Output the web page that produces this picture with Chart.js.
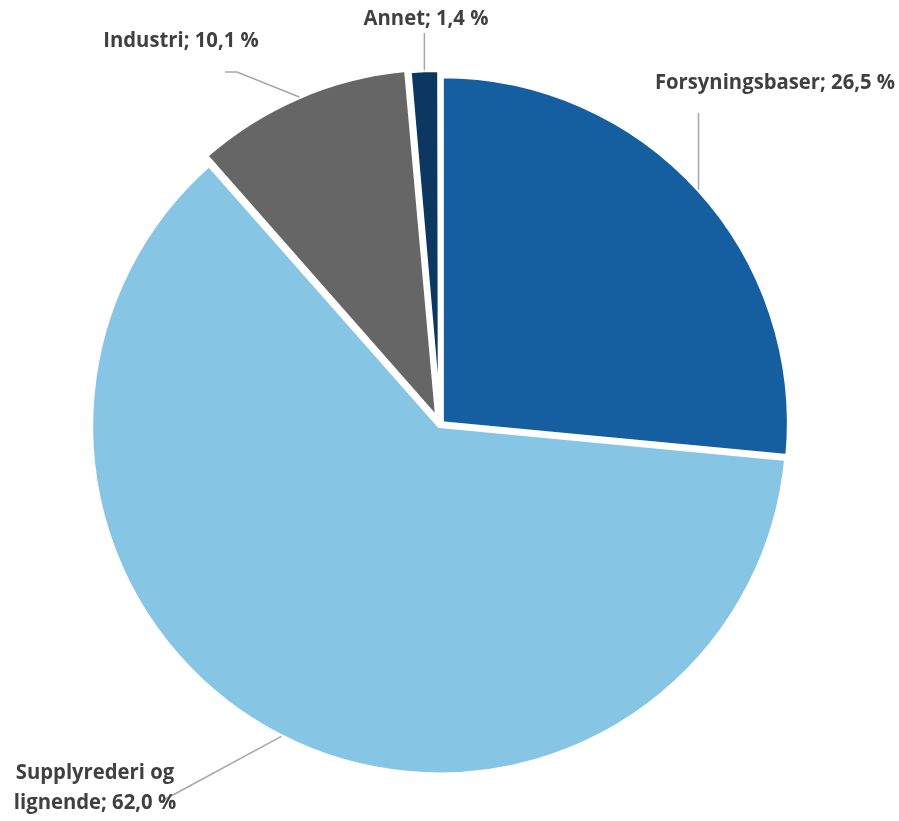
<!DOCTYPE html>
<html>
<head>
<meta charset="utf-8">
<script src="https://cdn.jsdelivr.net/npm/chart.js@4/dist/chart.umd.min.js"></script>
<style>
  html, body { margin: 0; padding: 0; background: #ffffff; }
  #wrap { width: 899px; height: 821px; position: relative; }
</style>
</head>
<body>
<div id="wrap"><canvas id="graficoPie"></canvas></div>
<script>
const kategorier = ['Forsyningsbaser', 'Supplyrederi og lignende', 'Industri', 'Annet'];
const andeler = [26.5, 62.0, 10.1, 1.4];
const farger = ['#155fa0', '#86c5e4', '#666666', '#0c3761'];
const etikettLinjer = [
    ['Forsyningsbaser; 26,5 %'],
    ['Supplyrederi og', 'lignende; 62,0 %'],
    ['Industri; 10,1 %'],
    ['Annet; 1,4 %']
];

// plassering av etiketter og knekkpunkter for linjene
const etikettPlass = [
    { tx: 775, ty: 83, linje: [['anchor', 113]] },
    { tx: 95, ty: 773, linje: [[160, 802]] },
    { tx: 181, ty: 41, linje: [[237, 72], [225, 72]] },
    { tx: 426, ty: 19, linje: [['anchor', 33]] }
];

const FONT = 'bold 21px "Open Sans", sans-serif';
const SMAL = 0.965; // smalere tekst, nærmere Calibri

const etiketter = {
    id: 'etiketter',
    afterDatasetsDraw(chart) {
        const ctx = chart.ctx;
        const arcs = chart.getDatasetMeta(0).data;
        ctx.save();
        arcs.forEach((arc, i) => {
            const p = arc.getProps(['x', 'y', 'startAngle', 'endAngle', 'outerRadius', 'circumference'], true);
            const mid = (p.startAngle + p.endAngle) / 2;
            const off = (arc.options.offset || 0) / 4;
            const fix = 1 - Math.sin(Math.min(Math.PI, p.circumference || 0));
            const r = p.outerRadius + off + off * fix;
            const ax = p.x + Math.cos(mid) * r;
            const ay = p.y + Math.sin(mid) * r;

            const plass = etikettPlass[i];
            ctx.strokeStyle = '#a6a6a6';
            ctx.lineWidth = 1.5;
            ctx.beginPath();
            ctx.moveTo(ax, ay);
            plass.linje.forEach(pt => {
                const x = pt[0] === 'anchor' ? ax : pt[0];
                ctx.lineTo(x, pt[1]);
            });
            ctx.stroke();

            ctx.fillStyle = '#404040';
            ctx.font = FONT;
            ctx.textAlign = 'center';
            ctx.textBaseline = 'middle';
            etikettLinjer[i].forEach((t, k) => {
                ctx.save();
                ctx.translate(plass.tx, plass.ty + k * 30);
                ctx.scale(SMAL, 1);
                ctx.fillText(t, 0, 0);
                ctx.restore();
            });
        });
        ctx.restore();
    }
};

new Chart(document.getElementById('graficoPie'), {
    type: 'pie',
    data: {
        labels: kategorier,
        datasets: [{
            data: andeler,
            backgroundColor: farger,
            borderColor: '#ffffff',
            borderWidth: 4,
            offset: [10, 5, 28, 17]
        }]
    },
    options: {
        responsive: true,
        maintainAspectRatio: false,
        animation: false,
        radius: 347,
        layout: { padding: { left: 0, right: 19, top: 29, bottom: 0 } },
        plugins: {
            legend: { display: false },
            tooltip: { enabled: false }
        }
    },
    plugins: [etiketter]
});
</script>
</body>
</html>
